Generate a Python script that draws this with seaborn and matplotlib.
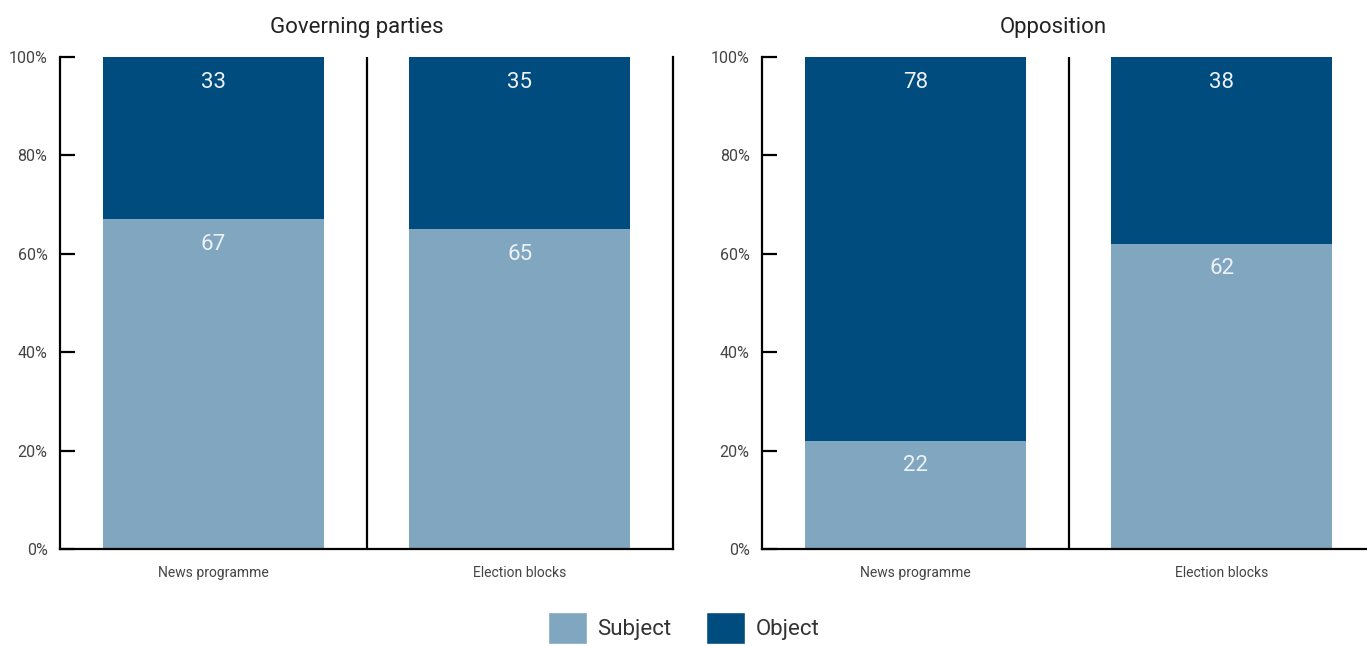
import matplotlib
matplotlib.use("Agg")
import matplotlib.pyplot as plt
from matplotlib.patches import Patch
import seaborn as sns
import pandas as pd

# Share of mentions in which parties appear as subject vs. object (%)
categories = ["News programme", "Election blocks"]
panels = ["Governing parties", "Opposition"]
subject_governing = [67, 65]
object_governing = [33, 35]
subject_opposition = [22, 62]
object_opposition = [78, 38]
yticks = [0, 20, 40, 60, 80, 100]
ytick_labels = ["0%", "20%", "40%", "60%", "80%", "100%"]

SUBJECT_COLOR = "#80a6c0"
OBJECT_COLOR = "#004c7e"
TEXT_COLOR = "#444444"

sns.set_theme(style="white")
plt.rcParams["font.family"] = ["Roboto", "DejaVu Sans"]

fig = plt.figure(figsize=(13.67, 6.46), dpi=100)

panel_data = [
    (subject_governing, object_governing),
    (subject_opposition, object_opposition),
]
axes_lefts = [60 / 1367, 762 / 1367]
title_x = [357 / 1367, 1053 / 1367]
ax_w = 613 / 1367
ax_b = 1 - 549 / 646
ax_h = (549 - 57) / 646

for i, (subj, obj) in enumerate(panel_data):
    ax = fig.add_axes([axes_lefts[i], ax_b, ax_w, ax_h])
    df = pd.DataFrame({
        "category": categories,
        "subject": subj,
        "object": obj,
    })
    df["total"] = df["subject"] + df["object"]

    sns.barplot(data=df, x="category", y="total", color=OBJECT_COLOR,
                width=0.72, saturation=1, linewidth=0, ax=ax)
    sns.barplot(data=df, x="category", y="subject", color=SUBJECT_COLOR,
                width=0.72, saturation=1, linewidth=0, ax=ax)

    # value labels just below the top of each segment
    for j, row in df.iterrows():
        ax.annotate(str(row["object"]), xy=(j, row["total"]), xytext=(0, -18),
                    textcoords="offset points", ha="center", va="center",
                    color="#eef2f6", fontsize=16)
        ax.annotate(str(row["subject"]), xy=(j, row["subject"]), xytext=(0, -18),
                    textcoords="offset points", ha="center", va="center",
                    color="#eef2f6", fontsize=16)

    ax.set_xlim(-0.5, 1.5)
    ax.set_ylim(0, 100)
    ax.axvline(0.5, color="black", lw=1.6)

    ax.set_yticks(yticks)
    ax.set_yticklabels(ytick_labels)
    ax.tick_params(axis="y", which="major", direction="in", length=11,
                   width=1.6, color="black", left=True, pad=9,
                   labelsize=11.5, labelcolor=TEXT_COLOR)
    ax.tick_params(axis="x", length=0, pad=12, labelsize=10,
                   labelcolor=TEXT_COLOR)
    ax.set_xlabel("")
    ax.set_ylabel("")

    for side in ["left", "bottom", "right"]:
        ax.spines[side].set_visible(True)
        ax.spines[side].set_color("black")
        ax.spines[side].set_linewidth(1.6)
    ax.spines["top"].set_visible(False)

    fig.text(title_x[i], 1 - 27 / 646, panels[i], ha="center", va="center",
             fontsize=16, color="#222222")

handles = [Patch(facecolor=SUBJECT_COLOR, label="Subject"),
           Patch(facecolor=OBJECT_COLOR, label="Object")]
fig.legend(handles=handles, loc="center", bbox_to_anchor=(0.5, 1 - 628 / 646),
           ncol=2, frameon=False, fontsize=16, handlelength=1.75,
           handleheight=1.85, handletextpad=0.45, columnspacing=1.6,
           labelcolor="#333333")

fig.savefig("out.png", dpi=100)
